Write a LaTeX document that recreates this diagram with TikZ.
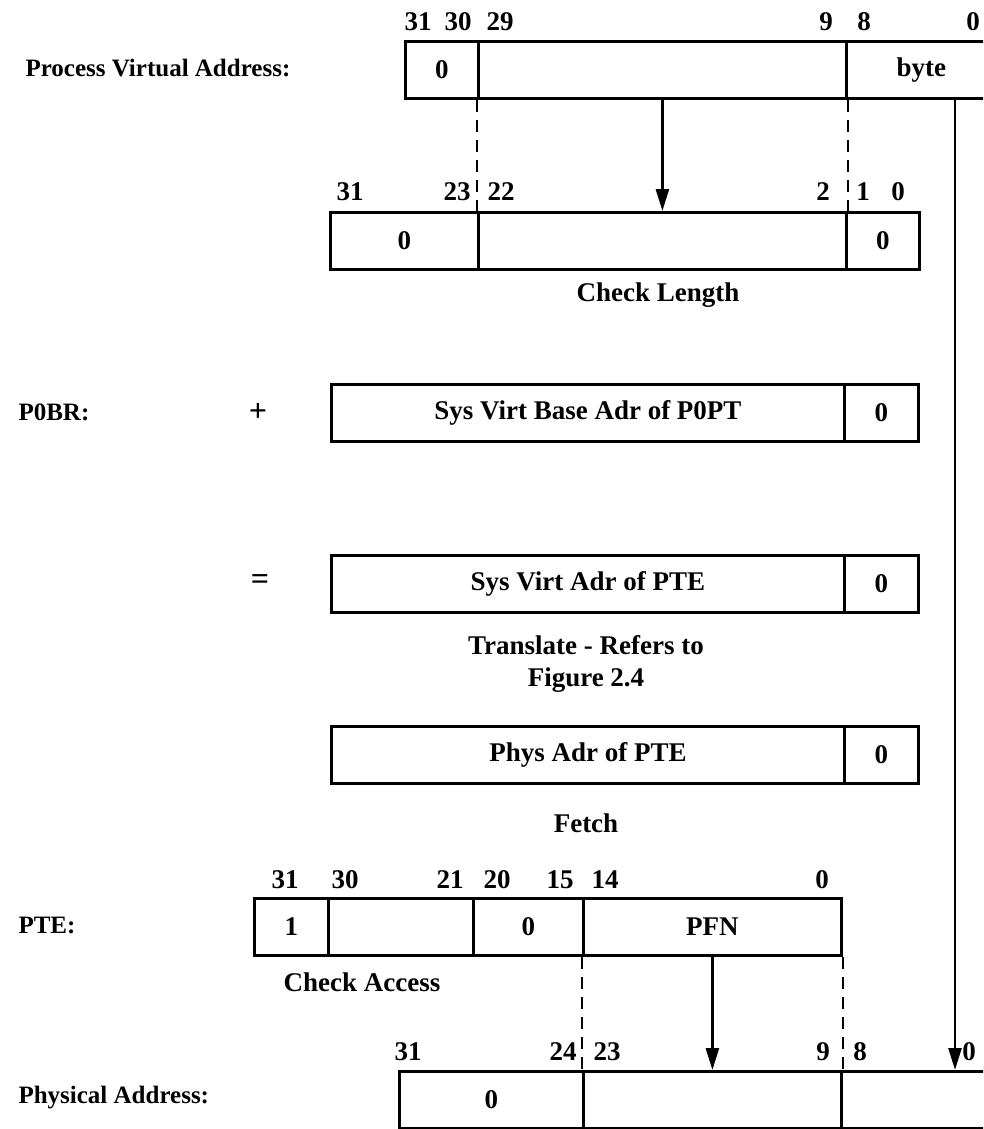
\documentclass[tikz,border=0pt]{standalone}
\usepackage{fontspec}
\setmainfont{Liberation Serif}
\usetikzlibrary{arrows.meta}

\begin{document}
\begin{tikzpicture}[x=1pt, y=-1pt,
  fld/.style={draw, line width=2.8pt, minimum width=#1, minimum height=57pt, inner sep=0pt, anchor=north west, font=\bfseries\fontsize{27}{32}\selectfont},
  bit/.style={font=\bfseries\fontsize{27}{32}\selectfont, inner sep=0pt},
  txt/.style={font=\bfseries\fontsize{27}{32}\selectfont},
  lbl/.style={font=\bfseries\fontsize{25}{30}\selectfont, anchor=west},
  sgn/.style={font=\bfseries\fontsize{32}{36}\selectfont},
  arr/.style={line width=2.6pt, -{Triangle[length=22pt, width=13pt]}},
  dsh/.style={line width=2.6pt, dash pattern=on 12pt off 8pt}
]
  \useasboundingbox (0,0) rectangle (983,1129);
  \clip (0,0) rectangle (983,1129);
  %% Process Virtual Address
  \node[lbl] (pva-name) at (22,68) {Process Virtual Address:};
  \node[fld=73pt]  (pva-sign) at (404,40) {0};
  \node[fld=368pt] (pva-vpn)  at (477,40) {};
  \node[fld=150pt] (pva-byte) at (845,40) {byte};
  \node[bit] (pva-b31) at (418,22) {31};
  \node[bit] (pva-b30) at (458,22) {30};
  \node[bit] (pva-b29) at (500,22) {29};
  \node[bit] (pva-b9)  at (826,22) {9};
  \node[bit] (pva-b8)  at (864,22) {8};
  \node[bit] (pva-b0)  at (973,22) {0};
  %% Check Length
  \node[fld=148pt] (chk-hi)  at (329,211) {0};
  \node[fld=368pt] (chk-mid) at (477,211) {};
  \node[fld=73pt]  (chk-lo)  at (845,211) {0};
  \node[bit] (chk-b31) at (350,192) {31};
  \node[bit] (chk-b23) at (457,192) {23};
  \node[bit] (chk-b22) at (501,192) {22};
  \node[bit] (chk-b2)  at (823,192) {2};
  \node[bit] (chk-b1)  at (863,192) {1};
  \node[bit] (chk-b0)  at (898,192) {0};
  \node[txt] (chk-name) at (658,295) {Check Length};
  %% P0BR
  \node[lbl] (p0br-name) at (15,412) {P0BR:};
  \node[sgn] (plus) at (258,412) {+};
  \node[fld=513pt] (base-adr) at (330,383) {Sys Virt Base Adr of P0PT};
  \node[fld=74pt]  (base-lo)  at (843,383) {0};
  %% Sum
  \node[sgn] (equals) at (260,582) {=};
  \node[fld=513pt] (sva-adr) at (330,554) {Sys Virt Adr of PTE};
  \node[fld=74pt]  (sva-lo)  at (843,554) {0};
  \node[txt] (xlate-a) at (586,645) {Translate - Refers to};
  \node[txt] (xlate-b) at (586,680) {Figure 2.4};
  %% Phys Adr of PTE
  \node[fld=513pt] (pa-adr) at (330,725) {Phys Adr of PTE};
  \node[fld=74pt]  (pa-lo)  at (843,725) {0};
  \node[txt] (fetch) at (586,823) {Fetch};
  %% PTE
  \node[lbl] (pte-name) at (15,925) {PTE:};
  \node[fld=74pt]  (pte-v)    at (253,897) {1};
  \node[fld=145pt] (pte-prot) at (327,897) {};
  \node[fld=110pt] (pte-zero) at (472,897) {0};
  \node[fld=258pt] (pte-pfn)  at (582,897) {PFN};
  \node[bit] (pte-b31) at (285,880) {31};
  \node[bit] (pte-b30) at (345,880) {30};
  \node[bit] (pte-b21) at (450,880) {21};
  \node[bit] (pte-b20) at (497,880) {20};
  \node[bit] (pte-b15) at (560,880) {15};
  \node[bit] (pte-b14) at (605,880) {14};
  \node[bit] (pte-b0)  at (822,880) {0};
  \node[txt] (chk-acc) at (362,982) {Check Access};
  %% Physical Address
  \node[lbl] (phys-name) at (15,1098) {Physical Address:};
  \node[fld=184pt] (phys-hi)   at (398,1070) {0};
  \node[fld=258pt] (phys-pfn)  at (582,1070) {};
  \node[fld=160pt] (phys-byte) at (840,1070) {};
  \node[bit] (phys-b31) at (408,1052) {31};
  \node[bit] (phys-b24) at (563,1052) {24};
  \node[bit] (phys-b23) at (607,1052) {23};
  \node[bit] (phys-b9)  at (823,1052) {9};
  \node[bit] (phys-b8)  at (860,1052) {8};
  \node[bit] (phys-b0)  at (969,1052) {0};
  %% Connectors
  \draw[dsh] (pva-vpn.south west) -- (chk-mid.north west);
  \draw[dsh] (pva-vpn.south east) -- (chk-mid.north east);
  \draw[arr] (pva-vpn.south) -- (chk-mid.north);
  \coordinate (tap) at (955,97);
  \draw[arr] (tap) -- (tap |- phys-byte.north);
  \draw[dsh] (pte-pfn.south west) -- (phys-pfn.north west);
  \draw[dsh] (pte-pfn.south east) -- (phys-pfn.north east);
  \draw[arr] (pte-pfn.south) -- (phys-pfn.north);
\end{tikzpicture}
\end{document}
